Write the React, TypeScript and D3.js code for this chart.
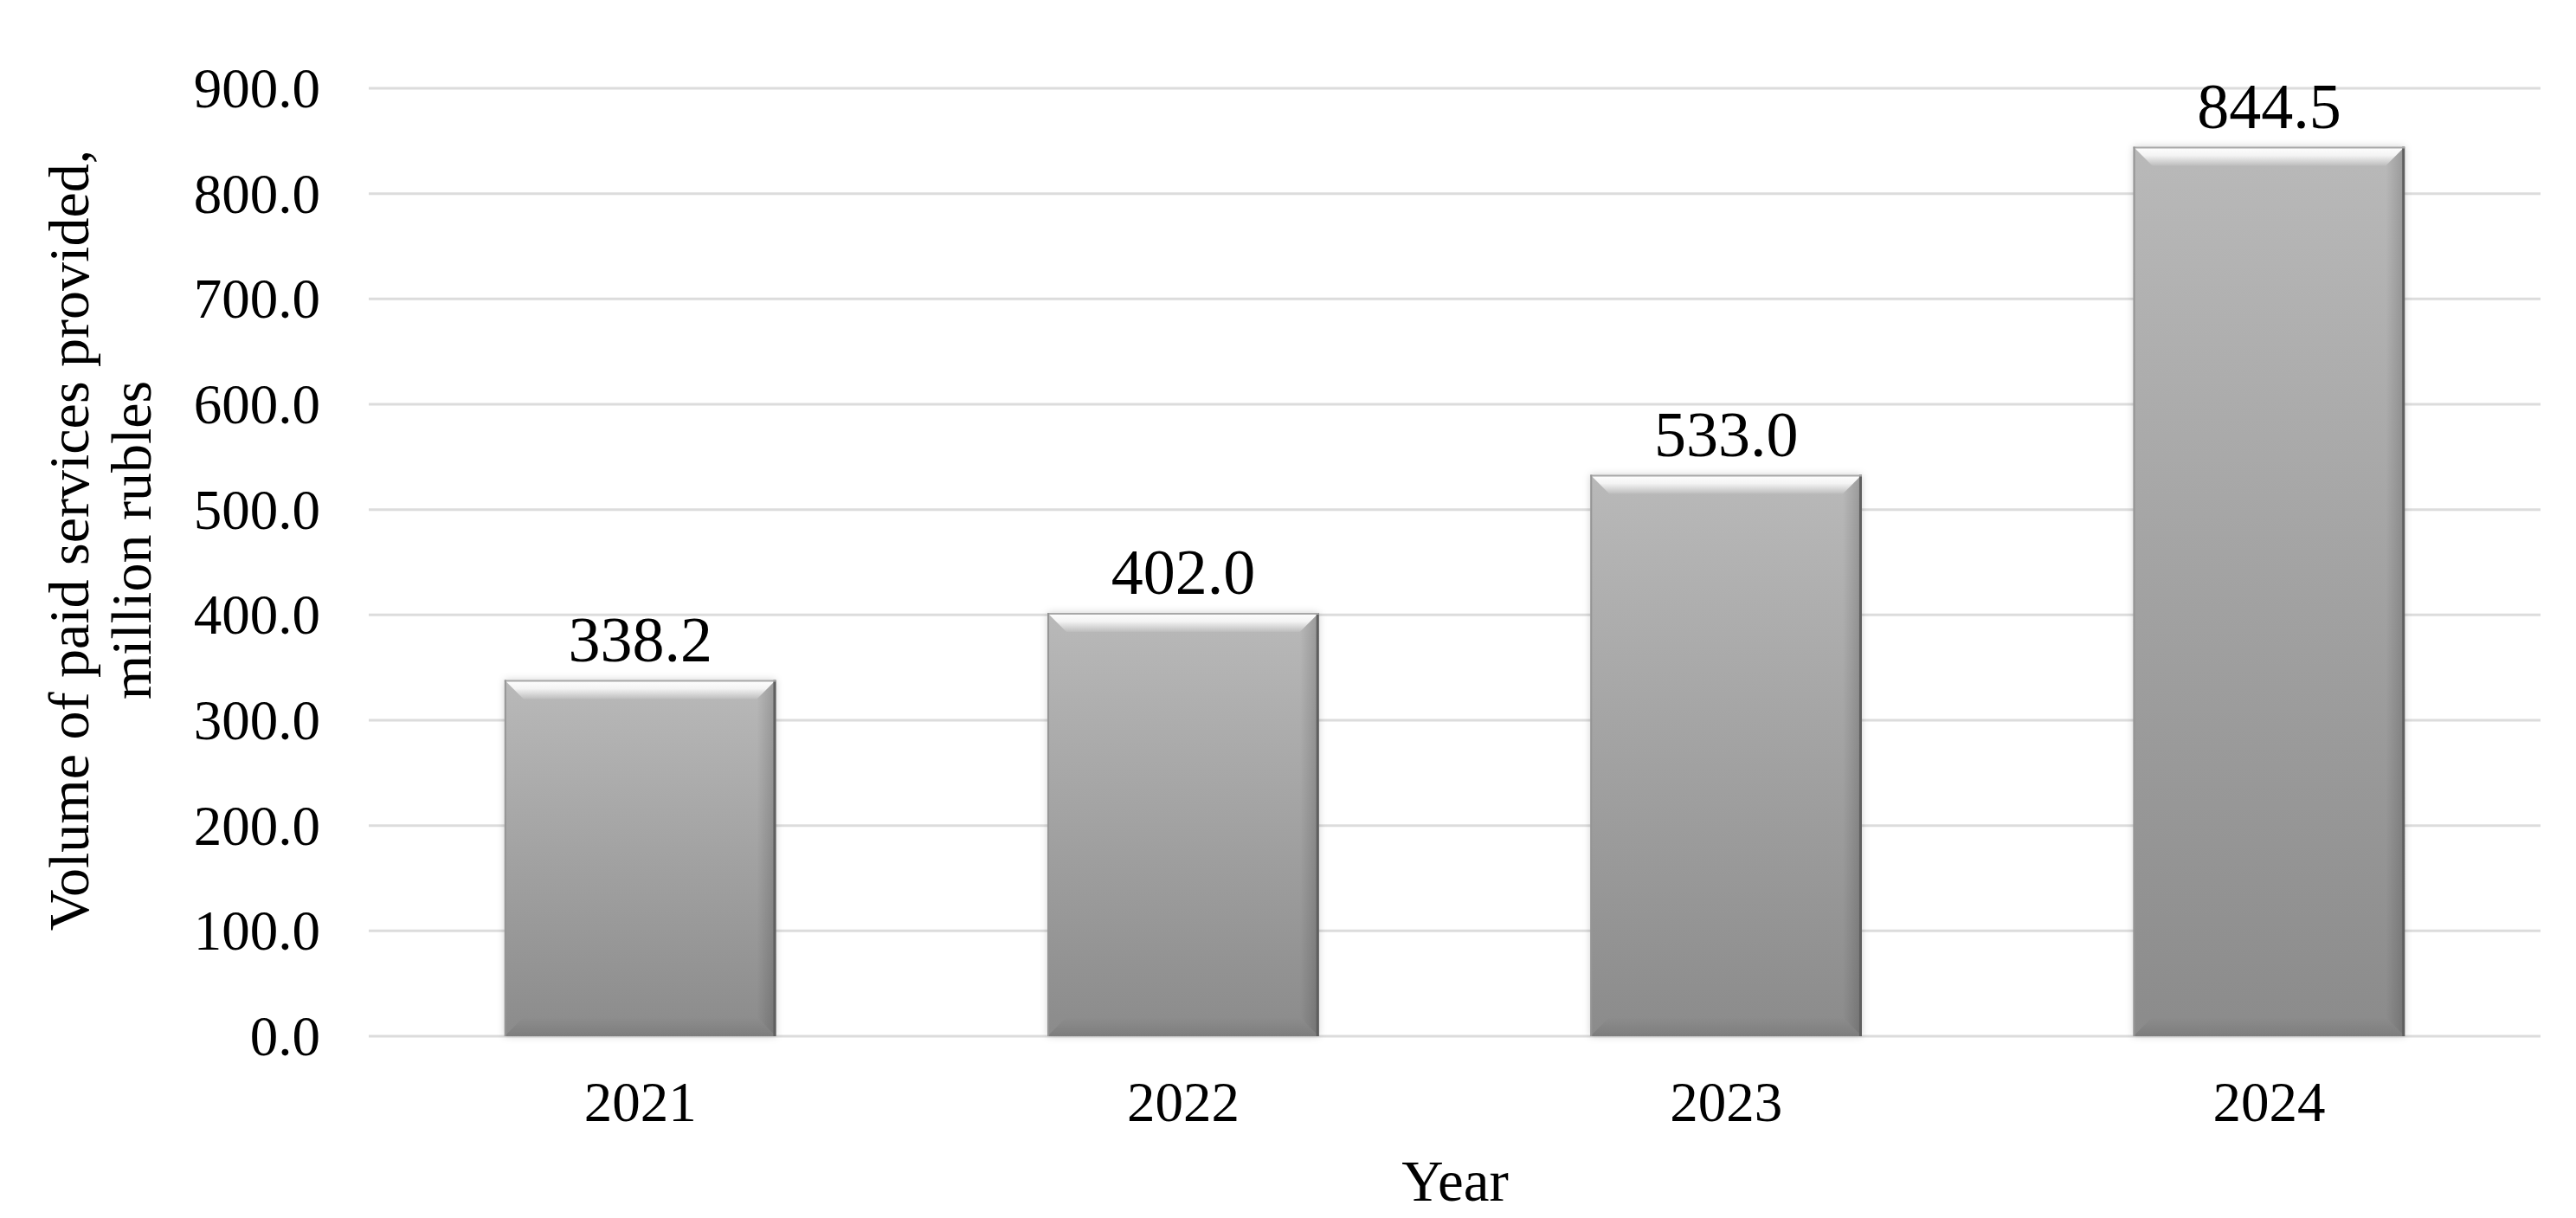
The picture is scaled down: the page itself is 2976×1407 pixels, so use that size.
import React from "react";
import * as d3 from "d3";

const categories = ["2021", "2022", "2023", "2024"];
const values = [338.2, 402.0, 533.0, 844.5];
const yTicks = [0, 100, 200, 300, 400, 500, 600, 700, 800, 900];
const yTitleLines = ["Volume of paid services provided,", "million rubles"];
const xTitle = "Year";

const W = 2976;
const H = 1407;
const FONT = "'Liberation Serif', 'Times New Roman', serif";

export default function App() {
  const x = d3
    .scaleBand<string>()
    .domain(categories)
    .range([426, 2935])
    .paddingInner(0.5)
    .paddingOuter(0.25);
  const y = d3.scaleLinear().domain([0, 900]).range([1197, 102]);
  const fmt = d3.format(".1f");
  const bw = x.bandwidth();
  const b = 22;

  return (
    <svg
      width={W}
      height={H}
      style={{ position: "absolute", left: 0, top: 0, background: "#fff" }}
      fontFamily={FONT}
    >
      <defs>
        <linearGradient id="barFill" x1="0" y1="0" x2="0" y2="1">
          <stop offset="0" stopColor="#b9b9b9" />
          <stop offset="1" stopColor="#8b8b8b" />
        </linearGradient>
        <linearGradient id="topBevel" x1="0" y1="0" x2="0" y2="1">
          <stop offset="0" stopColor="#ffffff" />
          <stop offset="0.45" stopColor="#f4f4f4" />
          <stop offset="1" stopColor="#bdbdbd" />
        </linearGradient>
        <linearGradient id="rightBevel" x1="0" y1="0" x2="1" y2="0">
          <stop offset="0" stopColor="#000" stopOpacity="0" />
          <stop offset="1" stopColor="#000" stopOpacity="0.18" />
        </linearGradient>
        <linearGradient id="bottomBevel" x1="0" y1="0" x2="0" y2="1">
          <stop offset="0" stopColor="#000" stopOpacity="0" />
          <stop offset="1" stopColor="#000" stopOpacity="0.1" />
        </linearGradient>
        <filter id="shadow" x="-10%" y="-10%" width="120%" height="120%">
          <feDropShadow dx="0" dy="0" stdDeviation="4" floodColor="#000" floodOpacity="0.18" />
        </filter>
      </defs>
      <rect x={0} y={0} width={W} height={H} fill="#fff" />
      {yTicks.map((t) => (
        <g key={t}>
          <line
            x1={426}
            x2={2935}
            y1={y(t)}
            y2={y(t)}
            stroke="#dcdcdc"
            strokeWidth={3}
          />
          <text
            x={370}
            y={y(t)}
            dy="0.34em"
            textAnchor="end"
            fontSize={65}
            fill="#000"
          >
            {fmt(t)}
          </text>
        </g>
      ))}
      {categories.map((c, i) => {
        const x0 = x(c)!;
        const y0 = y(values[i]);
        const h = y(0) - y0;
        return (
          <g key={c}>
            <g filter="url(#shadow)">
              <rect x={x0} y={y0} width={bw} height={h} fill="url(#barFill)" />
            </g>
            <polygon
              points={`${x0},${y0} ${x0 + bw},${y0} ${x0 + bw - b},${y0 + b} ${x0 + b},${y0 + b}`}
              fill="url(#topBevel)"
            />
            <polygon
              points={`${x0 + bw},${y0} ${x0 + bw - b},${y0 + b} ${x0 + bw - b},${y0 + h - b} ${x0 + bw},${y0 + h}`}
              fill="url(#rightBevel)"
            />
            <polygon
              points={`${x0},${y0 + h} ${x0 + b},${y0 + h - b} ${x0 + bw - b},${y0 + h - b} ${x0 + bw},${y0 + h}`}
              fill="url(#bottomBevel)"
            />
            <line x1={x0 + bw - 1.5} x2={x0 + bw - 1.5} y1={y0} y2={y0 + h} stroke="#5f5f5f" strokeWidth={3} />
            <line x1={x0} x2={x0 + bw} y1={y0 + 1} y2={y0 + 1} stroke="#a8a8a8" strokeWidth={2} />
            <line x1={x0 + 1} x2={x0 + 1} y1={y0} y2={y0 + h} stroke="#959595" strokeWidth={2} />
            <text
              x={x0 + bw / 2}
              y={y0 - 22}
              textAnchor="middle"
              fontSize={74}
              fill="#000"
            >
              {fmt(values[i])}
            </text>
            <text
              x={x0 + bw / 2}
              y={1295}
              textAnchor="middle"
              fontSize={65}
              fill="#000"
            >
              {c}
            </text>
          </g>
        );
      })}
      <text x={1681} y={1387} textAnchor="middle" fontSize={67} fill="#000">
        {xTitle}
      </text>
      <text
        transform="translate(102,624) rotate(-90)"
        textAnchor="middle"
        fontSize={66}
        fill="#000"
      >
        <tspan x={0} y={0}>{yTitleLines[0]}</tspan>
        <tspan x={0} y={72}>{yTitleLines[1]}</tspan>
      </text>
    </svg>
  );
}
